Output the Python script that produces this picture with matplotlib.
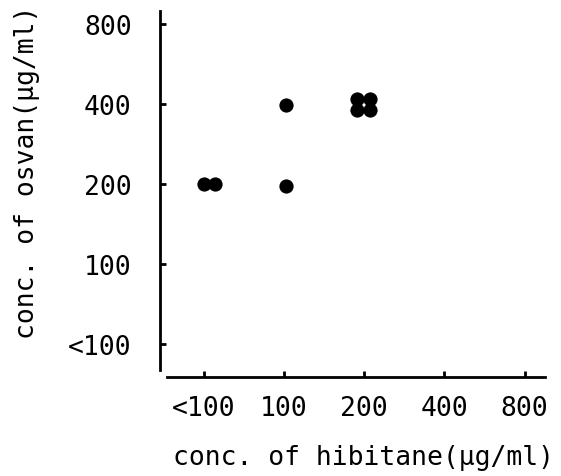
import matplotlib
matplotlib.use("Agg")
import matplotlib.pyplot as plt

# categorie sugli assi (ordinali)
hib_levels = ["<100", "100", "200", "400", "800"]
osv_levels = ["<100", "100", "200", "400", "800"]

# punti osservati: categoria + piccolo scostamento per non sovrapporli
hib = ["<100", "<100", "100", "100", "200", "200", "200", "200"]
osv = ["200", "200", "200", "400", "400", "400", "400", "400"]
dx = [0.0, 0.14, 0.03, 0.03, -0.09, 0.07, -0.09, 0.07]
dy = [0.0, 0.0, -0.02, -0.01, 0.06, 0.06, -0.07, -0.07]

xs = [hib_levels.index(h) + d for h, d in zip(hib, dx)]
ys = [osv_levels.index(o) + d for o, d in zip(osv, dy)]

plt.rcParams["font.family"] = ["DejaVu Sans Mono"]

W, H = 561, 477
fig = plt.figure(figsize=(W / 100, H / 100), dpi=100)
ax = fig.add_axes([167 / W, (H - 371) / H, (545 - 167) / W, (371 - 12) / H])

ax.scatter(xs, ys, s=105, color="black", linewidths=0, zorder=3)

ax.set_xlim(-0.455, 4.255)
ax.set_ylim(-0.328, 4.165)
ax.set_xticks(range(len(hib_levels)))
ax.set_xticklabels(hib_levels)
ax.set_yticks(range(len(osv_levels)))
ax.set_yticklabels(osv_levels)

for s in ["top", "right"]:
    ax.spines[s].set_visible(False)
ax.spines["left"].set_position(("outward", 7.5 * 0.72))
ax.spines["bottom"].set_position(("outward", 6.5 * 0.72))
for s in ["left", "bottom"]:
    ax.spines[s].set_linewidth(2.0)

ax.tick_params(direction="in", length=4, width=2, labelsize=19)
ax.tick_params(axis="x", pad=13)
ax.tick_params(axis="y", pad=20)

ax.set_xlabel("conc. of hibitane(μg/ml)", fontsize=19)
ax.set_ylabel("conc. of osvan(μg/ml)", fontsize=19)
ax.xaxis.set_label_coords(0.519, -0.205)
ax.yaxis.set_label_coords(-0.335, 0.554)

fig.savefig("out.png", dpi=100)
